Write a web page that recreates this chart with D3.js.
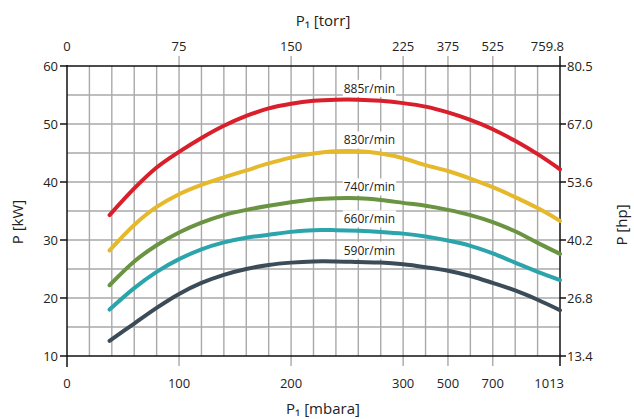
<!DOCTYPE html>
<html>
<head>
<meta charset="utf-8">
<script src="https://cdn.jsdelivr.net/npm/d3@7"></script>
<style>
  html, body { margin: 0; padding: 0; background: #fff; }
  svg { display: block; }
  text { font-family: "Open Sans", "Noto Sans", sans-serif; fill: #222; }
</style>
</head>
<body>
<svg id="chart" width="634" height="419"></svg>
<script>
// ---------- data ----------
const pressureMbar = [38, 60, 80, 100, 120, 140, 160, 180, 200, 220, 240, 260, 280, 300, 400, 500, 600, 700, 804, 909, 1013];
const speeds = ["885r/min", "830r/min", "740r/min", "660r/min", "590r/min"];
const power885 = [34.3, 38.9, 42.5, 45.2, 47.6, 49.7, 51.4, 52.7, 53.5, 54.0, 54.2, 54.2, 54.0, 53.6, 53.0, 52.0, 50.7, 49.1, 47.1, 44.8, 42.2];
const power830 = [28.2, 32.6, 35.7, 37.9, 39.5, 40.8, 42.0, 43.2, 44.2, 44.9, 45.3, 45.3, 44.9, 44.1, 42.9, 41.9, 40.6, 39.1, 37.4, 35.5, 33.3];
const power740 = [22.2, 26.3, 29.1, 31.3, 33.0, 34.3, 35.2, 35.9, 36.5, 37.0, 37.2, 37.2, 36.9, 36.4, 35.9, 35.2, 34.3, 33.1, 31.5, 29.5, 27.6];
const power660 = [18.0, 21.7, 24.5, 26.7, 28.4, 29.6, 30.4, 30.9, 31.4, 31.7, 31.7, 31.6, 31.4, 31.1, 30.6, 29.9, 29.0, 27.7, 26.1, 24.5, 23.1];
const power590 = [12.6, 15.6, 18.3, 20.7, 22.6, 24.0, 25.0, 25.7, 26.1, 26.3, 26.3, 26.2, 26.1, 25.8, 25.3, 24.7, 23.8, 22.6, 21.3, 19.7, 17.9];
const seriesValues = [power885, power830, power740, power660, power590];
const seriesColors = ["#d81f2b", "#e6b82b", "#6a9342", "#2ba4ab", "#3b4b57"];

const mbarTicks = [0, 100, 200, 300, 500, 700, 1013];
const torrTicks = ["0", "75", "150", "225", "375", "525", "759.8"];
const kwTicks = [10, 20, 30, 40, 50, 60];
const hpTicks = ["13.4", "26.8", "40.2", "53.6", "67.0", "80.5"];

// ---------- layout ----------
const L = 67, R = 560, T = 66, B = 356;
const step = (R - L) / 22;
const svg = d3.select("#chart");

// piecewise-linear pressure axis (0-300 linear, then compressed)
const x = d3.scaleLinear()
  .domain([0, 300, 500, 700, 1013])
  .range([L, L + 15 * step, L + 17 * step, L + 19 * step, R]);
const y = d3.scaleLinear().domain([10, 60]).range([B, T]);

// ---------- grid ----------
const grid = svg.append("g").attr("stroke", "#a9a9a9").attr("stroke-width", 1.4);
d3.range(1, 22).forEach(i => {
  grid.append("line").attr("x1", L + i * step).attr("x2", L + i * step).attr("y1", T).attr("y2", B);
});
d3.range(15, 60, 5).forEach(v => {
  grid.append("line").attr("x1", L).attr("x2", R).attr("y1", y(v)).attr("y2", y(v));
});
// labelled gridlines extend past top and bottom
mbarTicks.forEach(v => {
  if (v === 0 || v === 1013) return;
  grid.append("line").attr("x1", x(v)).attr("x2", x(v)).attr("y1", T - 10).attr("y2", T);
  grid.append("line").attr("x1", x(v)).attr("x2", x(v)).attr("y1", B).attr("y2", B + 10);
});

// ---------- axes frame ----------
const ax = svg.append("g").attr("stroke", "#111").attr("stroke-width", 1.5);
ax.append("line").attr("x1", L).attr("x2", R).attr("y1", T).attr("y2", T);
ax.append("line").attr("x1", L).attr("x2", R).attr("y1", B).attr("y2", B);
ax.append("line").attr("x1", L).attr("x2", L).attr("y1", T - 1).attr("y2", B + 11);
ax.append("line").attr("x1", R).attr("x2", R).attr("y1", T - 10).attr("y2", B + 10);
kwTicks.forEach(v => {
  ax.append("line").attr("x1", L - 7).attr("x2", L).attr("y1", y(v)).attr("y2", y(v));
  ax.append("line").attr("x1", R).attr("x2", R + 6).attr("y1", y(v)).attr("y2", y(v));
});

// ---------- tick labels ----------
const fs = "13px";
svg.append("g").selectAll("text").data(kwTicks).join("text")
  .attr("x", L - 9).attr("y", d => y(d)).attr("dy", "0.35em")
  .attr("text-anchor", "end").style("font-size", fs).text(d => d);
svg.append("g").selectAll("text").data(hpTicks).join("text")
  .attr("x", R + 7).attr("y", (d, i) => y(kwTicks[i])).attr("dy", "0.35em")
  .attr("text-anchor", "start").style("font-size", fs).text(d => d);
svg.append("g").selectAll("text").data(mbarTicks).join("text")
  .attr("x", (d, i) => i === mbarTicks.length - 1 ? R + 4 : x(d))
  .attr("y", 388)
  .attr("text-anchor", (d, i) => i === mbarTicks.length - 1 ? "end" : "middle")
  .style("font-size", fs).text(d => d);
svg.append("g").selectAll("text").data(torrTicks).join("text")
  .attr("x", (d, i) => i === torrTicks.length - 1 ? R + 4 : x(mbarTicks[i]))
  .attr("y", 51)
  .attr("text-anchor", (d, i) => i === torrTicks.length - 1 ? "end" : "middle")
  .style("font-size", fs).text(d => d);

// ---------- axis titles ----------
svg.append("text").attr("x", 323).attr("y", 26).attr("text-anchor", "middle")
  .style("font-size", "15px").text("P\u2081 [torr]");
svg.append("text").attr("x", 323).attr("y", 414).attr("text-anchor", "middle")
  .style("font-size", "15px").text("P\u2081 [mbara]");
svg.append("text").attr("transform", "translate(23,222) rotate(-90)").attr("text-anchor", "middle")
  .style("font-size", "15px").text("P [kW]");
svg.append("text").attr("transform", "translate(627,225) rotate(-90)").attr("text-anchor", "middle")
  .style("font-size", "15px").text("P [hp]");

// ---------- curves ----------
const line = d3.line()
  .x((d, i) => x(pressureMbar[i]))
  .y(d => y(d))
  .curve(d3.curveCatmullRom.alpha(0.5));

seriesValues.forEach((vals, k) => {
  svg.append("path").attr("d", line(vals))
    .attr("fill", "none").attr("stroke", seriesColors[k])
    .attr("stroke-width", 4).attr("stroke-linecap", "round");
});

// ---------- speed labels ----------
seriesValues.forEach((vals, k) => {
  const peak = d3.max(vals);
  const cy = y(peak) - 11;
  const g = svg.append("g");
  const t = g.append("text").attr("x", x(247)).attr("y", cy).attr("dy", "0.35em")
    .style("font-size", "12px").text(speeds[k]);
  const bb = t.node().getBBox();
  g.insert("rect", "text").attr("x", bb.x - 1).attr("y", bb.y).attr("width", bb.width + 2)
    .attr("height", bb.height).attr("fill", "#fff");
});
</script>
</body>
</html>
